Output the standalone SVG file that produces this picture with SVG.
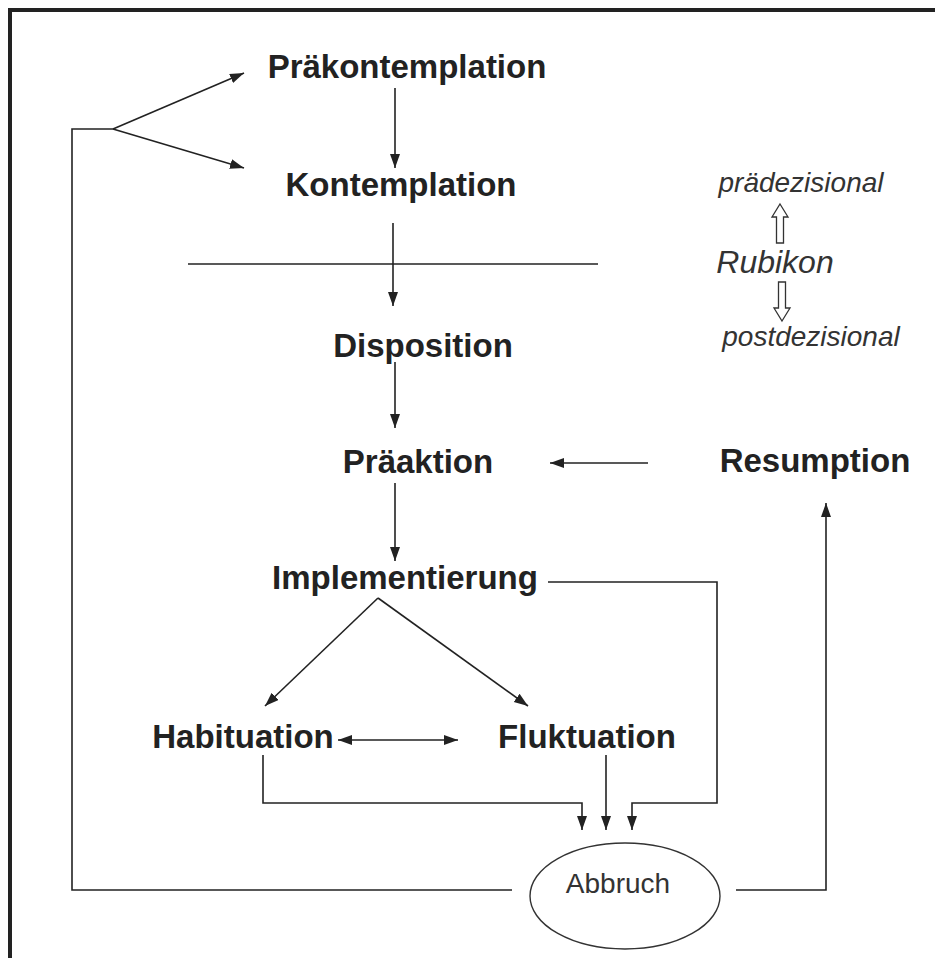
<svg xmlns="http://www.w3.org/2000/svg" width="935" height="958" viewBox="0 0 935 958">
  <style>
    .stage { font-family: "Liberation Sans", Arial, sans-serif; font-weight: bold; font-size: 33px; fill: #222; text-anchor: middle; }
    .side { font-family: "Liberation Sans", Arial, sans-serif; font-style: italic; font-size: 28px; fill: #333; text-anchor: middle; }
    .rub { font-size: 32px; }
    .end { font-family: "Liberation Sans", Arial, sans-serif; font-size: 28px; fill: #333; text-anchor: middle; }
    .ln { fill: none; stroke: #222; stroke-width: 1.6; }
    .arr { marker-end: url(#head); }
    .hollow { fill: #fff; stroke: #333; stroke-width: 1.3; }
    .frame { fill: none; stroke: #222; stroke-width: 4; }
  </style>
  <defs>
    <marker id="head" markerUnits="userSpaceOnUse" markerWidth="15" markerHeight="11" refX="14" refY="5" orient="auto-start-reverse">
      <path d="M0,0 L14,5 L0,10 z" fill="#222"/>
    </marker>
  </defs>

  <rect width="935" height="958" fill="#fff"/>
  <!-- frame: top and left edges only -->
  <path class="frame" d="M10,958 V10 H935"/>

  <g id="connectors">
    <line class="ln arr" x1="395" y1="88" x2="395" y2="168"/>
    <line class="ln arr" x1="393" y1="223" x2="393" y2="306"/>
    <line class="ln" x1="188" y1="264" x2="598" y2="264"/>
    <line class="ln arr" x1="395" y1="362" x2="395" y2="428"/>
    <line class="ln arr" x1="395" y1="483" x2="395" y2="561"/>
    <line class="ln arr" x1="648" y1="463" x2="550" y2="463"/>
    <line class="ln arr" x1="378" y1="598" x2="265" y2="706"/>
    <line class="ln arr" x1="378" y1="598" x2="528" y2="706"/>
    <line class="ln arr" x1="338" y1="740" x2="458" y2="740" marker-start="url(#head)"/>
    <polyline class="ln arr" points="263,755 263,803 582,803 582,830"/>
    <line class="ln arr" x1="606" y1="755" x2="606" y2="830"/>
    <polyline class="ln arr" points="548,582 717,582 717,803 632,803 632,830"/>
    <polyline class="ln" points="512,890 72,890 72,129 113,129"/>
    <line class="ln arr" x1="113" y1="129" x2="244" y2="73"/>
    <line class="ln arr" x1="113" y1="129" x2="244" y2="168"/>
    <polyline class="ln arr" points="736,890 826,890 826,503"/>
  </g>

  <g id="praekontemplation"><text class="stage" x="407" y="78">Präkontemplation</text></g>
  <g id="kontemplation"><text class="stage" x="401" y="196">Kontemplation</text></g>
  <g id="disposition"><text class="stage" x="423" y="357">Disposition</text></g>
  <g id="praeaktion"><text class="stage" x="418" y="473">Präaktion</text></g>
  <g id="resumption"><text class="stage" x="815" y="472">Resumption</text></g>
  <g id="implementierung"><text class="stage" x="405" y="589">Implementierung</text></g>
  <g id="habituation"><text class="stage" x="243" y="748">Habituation</text></g>
  <g id="fluktuation"><text class="stage" x="587" y="748">Fluktuation</text></g>

  <g id="abbruch">
    <ellipse cx="625" cy="896" rx="95" ry="53" fill="none" stroke="#333" stroke-width="1.4"/>
    <text class="end" x="618" y="893">Abbruch</text>
  </g>

  <g id="rubikon">
    <text class="side" x="801" y="192">prädezisional</text>
    <polygon class="hollow" points="780,204 788,217 783.5,217 783.5,243 776.5,243 776.5,217 772,217"/>
    <text class="side rub" x="775" y="273">Rubikon</text>
    <polygon class="hollow" points="782,321 790,308 785.5,308 785.5,282 778.5,282 778.5,308 774,308"/>
    <text class="side" x="811" y="346">postdezisional</text>
  </g>
</svg>
